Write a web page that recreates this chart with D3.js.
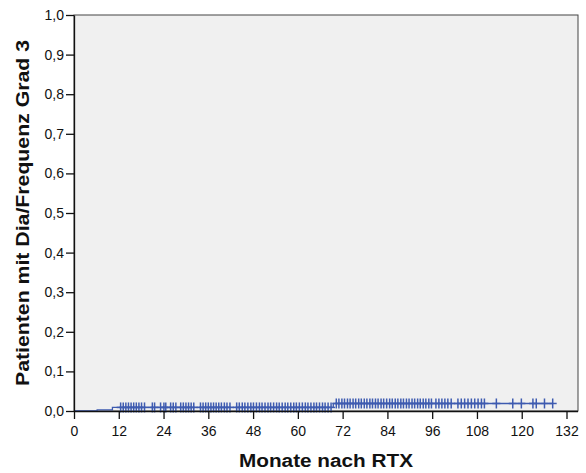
<!DOCTYPE html>
<html>
<head>
<meta charset="utf-8">
<script src="https://cdn.jsdelivr.net/npm/d3@7"></script>
<style>
  body { margin: 0; background: #fff; }
  svg { display: block; font-family: "Liberation Sans", Arial, sans-serif; }
</style>
</head>
<body>
<svg width="586" height="473"></svg>
<script>
// DATA: Kaplan-Meier steps (months, cumulative proportion) and censored times
const eventTimes = [0, 6.2, 10.3, 69.5];
const eventValues = [0, 0.003, 0.009, 0.019];
const endTime = 128.3;
const censorTimes = [
  12.5, 13.2, 13.9, 14.6, 15.3, 16, 16.7, 17.4, 18.1, 18.9, 21, 21.6, 23.2,
  24.1, 24.6, 25.9, 26.6, 27.3, 28.6, 29.3, 30, 30.7, 31.4, 32.1, 33.9, 34.6,
  35.3, 36, 36.7, 37.4, 38.1, 38.8, 39.5, 40.3, 41, 41.8, 43.6, 44.3, 45.1,
  45.8, 46.6, 47.4, 48.1, 48.9, 49.7, 50.4, 51.2, 52, 52.7, 53.5, 54.3, 55,
  55.8, 56.6, 57.3, 58.1, 58.9, 59.6, 60.4, 61.2, 62, 62.7, 63.5, 64.3, 65,
  65.8, 66.6, 67.3, 68.1, 68.9, 70.3, 71, 71.8, 72.5, 73.3, 74, 74.8, 75.5,
  76.3, 77, 77.8, 78.5, 79.3, 80, 80.8, 81.5, 82.3, 83, 83.8, 84.6, 85.3,
  86.1, 86.8, 87.6, 88.3, 89.1, 89.8, 90.6, 91.3, 92.1, 92.8, 93.6, 94.3,
  95.1, 95.8, 97, 97.8, 98.6, 99.4, 100.2, 101.1, 102.9, 103.8, 104.7, 105.6,
  106.5, 107.4, 108.3, 109.2, 110, 113.2, 117.6, 119.9, 123, 123.9, 126.1, 128.3
];
const xTicks = [0, 12, 24, 36, 48, 60, 72, 84, 96, 108, 120, 132];
const yTicks = [0, 0.1, 0.2, 0.3, 0.4, 0.5, 0.6, 0.7, 0.8, 0.9, 1.0];
const xTitle = "Monate nach RTX";
const yTitle = "Patienten mit Dia/Frequenz Grad 3";

const svg = d3.select("svg");
const plot = { left: 74, right: 578, top: 15, bottom: 411 };
const lineColor = "#3e5bb0";

const x = d3.scaleLinear().domain([0, 132]).range([plot.left, 566.5]);
const y = d3.scaleLinear().domain([0, 1]).range([plot.bottom, plot.top]);

// plot background + frame
svg.append("rect")
  .attr("x", plot.left).attr("y", plot.top)
  .attr("width", plot.right - plot.left).attr("height", plot.bottom - plot.top)
  .attr("fill", "#f0f0f0").attr("stroke", "#444").attr("stroke-width", 1);

// step curve
const steps = eventTimes.map((t, i) => [t, eventValues[i]]);
steps.push([endTime, eventValues[eventValues.length - 1]]);
const line = d3.line().x(d => x(d[0])).y(d => y(d[1])).curve(d3.curveStepAfter);
svg.append("path").datum(steps)
  .attr("d", line).attr("fill", "none")
  .attr("stroke", lineColor).attr("stroke-width", 1.3);

// value of the curve at time t
function survAt(t) {
  let v = 0;
  eventTimes.forEach((et, i) => { if (et <= t) v = eventValues[i]; });
  return v;
}

// censor marks
const marks = svg.append("g").attr("stroke", lineColor).attr("stroke-width", 1.5);
censorTimes.forEach(t => {
  const cx = x(t), cy = y(survAt(t));
  marks.append("line").attr("x1", cx).attr("x2", cx).attr("y1", cy - 5).attr("y2", cy + 5);
  marks.append("line").attr("x1", cx - 4).attr("x2", cx + 4).attr("y1", cy).attr("y2", cy);
});

// axes
const fmt = d => d3.format(".1f")(d).replace(".", ",");
const xAxis = svg.append("g")
  .attr("transform", `translate(0,${plot.bottom})`)
  .call(d3.axisBottom(x).tickValues(xTicks).tickSize(8).tickSizeOuter(0));
xAxis.select(".domain").attr("d", `M${plot.left},0.5H${plot.right}`);

const yAxis = svg.append("g")
  .attr("transform", `translate(${plot.left},0)`)
  .call(d3.axisLeft(y).tickValues(yTicks).tickFormat(fmt).tickSize(8).tickSizeOuter(0));

svg.selectAll(".tick text")
  .attr("font-family", "Liberation Sans, Arial, sans-serif")
  .attr("font-size", 14).attr("fill", "#111");
xAxis.selectAll(".tick text").attr("dy", "1em");
yAxis.selectAll(".tick text").attr("x", -10);
svg.selectAll(".domain, .tick line").attr("stroke", "#111").attr("stroke-width", 1.3);

// titles
svg.append("text")
  .attr("x", (plot.left + plot.right) / 2).attr("y", 467)
  .attr("text-anchor", "middle").attr("font-weight", "bold").attr("font-size", 18)
  .attr("textLength", 174).attr("lengthAdjust", "spacingAndGlyphs")
  .attr("fill", "#111").text(xTitle);

svg.append("text")
  .attr("transform", `translate(29,${(40 + 386) / 2}) rotate(-90)`)
  .attr("text-anchor", "middle").attr("font-weight", "bold").attr("font-size", 18)
  .attr("textLength", 346).attr("lengthAdjust", "spacingAndGlyphs")
  .attr("fill", "#111").text(yTitle);
</script>
</body>
</html>
